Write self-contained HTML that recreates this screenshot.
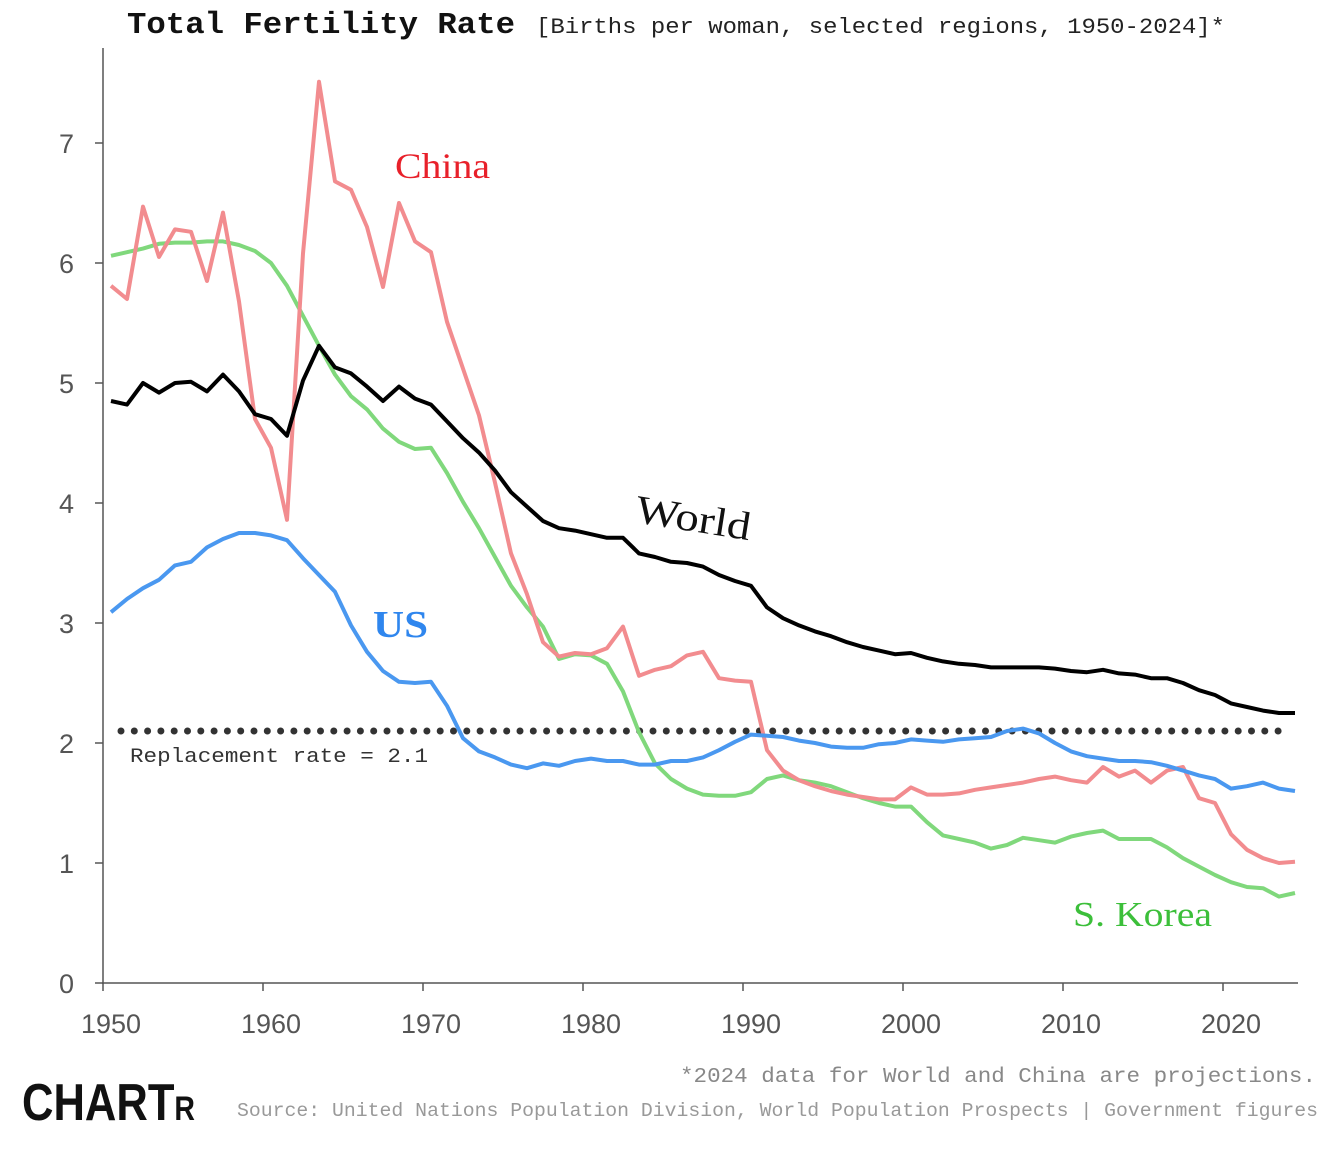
<!DOCTYPE html>
<html><head><meta charset="utf-8"><style>
html,body{margin:0;padding:0;background:#fff;}
svg{display:block;}
.mono{font-family:"Liberation Mono",monospace;}
.serif{font-family:"Liberation Serif",serif;}
.sans{font-family:"Liberation Sans",sans-serif;}
</style></head><body>
<svg id="chart" width="1324" height="1154" viewBox="0 0 1324 1154">
<text x="127" y="33" class="mono" font-size="31" font-weight="bold" fill="#111" textLength="388" lengthAdjust="spacingAndGlyphs">Total Fertility Rate</text>
<text x="536" y="33" class="mono" font-size="22" fill="#222" textLength="689" lengthAdjust="spacingAndGlyphs">[Births per woman, selected regions, 1950-2024]*</text>
<g id="axes"></g>
<g id="series"></g>
<text x="395" y="178" class="serif" font-size="36" fill="#e8202a" textLength="95" lengthAdjust="spacingAndGlyphs">China</text>
<text x="634" y="522" class="serif" font-size="40" fill="#111" textLength="116" lengthAdjust="spacingAndGlyphs" transform="rotate(9 634 522)">World</text>
<text x="373" y="637" class="serif" font-size="38" font-weight="bold" fill="#2f86ee" textLength="55" lengthAdjust="spacingAndGlyphs">US</text>
<text x="1073" y="926" class="serif" font-size="35" fill="#3cbf3a" textLength="139" lengthAdjust="spacingAndGlyphs">S. Korea</text>
<text x="130" y="762" class="mono" font-size="20" fill="#333" textLength="298" lengthAdjust="spacingAndGlyphs">Replacement rate = 2.1</text>
<text x="680" y="1082" class="mono" font-size="21" fill="#888" textLength="636" lengthAdjust="spacingAndGlyphs">*2024 data for World and China are projections.</text>
<text x="237" y="1116" class="mono" font-size="19" fill="#999" textLength="1081" lengthAdjust="spacingAndGlyphs">Source: United Nations Population Division, World Population Prospects | Government figures</text>
<text x="22" y="1120" class="sans" font-size="52" font-weight="bold" fill="#111" textLength="173" lengthAdjust="spacingAndGlyphs">CHART<tspan font-size="34">R</tspan></text>
</svg>
<script>
const years=[];for(let y=1950;y<=2024;y++)years.push(y);
const world=[4.85,4.82,5.0,4.92,5.0,5.01,4.93,5.07,4.93,4.74,4.70,4.56,5.02,5.31,5.13,5.08,4.97,4.85,4.97,4.87,4.82,4.68,4.54,4.42,4.27,4.09,3.97,3.85,3.79,3.77,3.74,3.71,3.71,3.58,3.55,3.51,3.50,3.47,3.40,3.35,3.31,3.13,3.04,2.98,2.93,2.89,2.84,2.80,2.77,2.74,2.75,2.71,2.68,2.66,2.65,2.63,2.63,2.63,2.63,2.62,2.60,2.59,2.61,2.58,2.57,2.54,2.54,2.50,2.44,2.40,2.33,2.30,2.27,2.25,2.25];
const china=[5.81,5.70,6.47,6.05,6.28,6.26,5.85,6.42,5.68,4.70,4.46,3.86,6.08,7.51,6.68,6.61,6.30,5.80,6.50,6.18,6.09,5.51,5.12,4.73,4.17,3.58,3.24,2.84,2.72,2.75,2.74,2.79,2.97,2.56,2.61,2.64,2.73,2.76,2.54,2.52,2.51,1.94,1.77,1.69,1.64,1.60,1.57,1.55,1.53,1.53,1.63,1.57,1.57,1.58,1.61,1.63,1.65,1.67,1.70,1.72,1.69,1.67,1.80,1.72,1.77,1.67,1.77,1.80,1.54,1.50,1.24,1.11,1.04,1.00,1.01];
const korea=[6.06,6.09,6.12,6.16,6.17,6.17,6.18,6.18,6.15,6.10,6.00,5.81,5.56,5.31,5.07,4.89,4.78,4.62,4.51,4.45,4.46,4.25,4.01,3.79,3.55,3.31,3.13,2.97,2.70,2.74,2.73,2.66,2.43,2.09,1.83,1.70,1.62,1.57,1.56,1.56,1.59,1.70,1.73,1.69,1.67,1.64,1.59,1.54,1.50,1.47,1.47,1.34,1.23,1.20,1.17,1.12,1.15,1.21,1.19,1.17,1.22,1.25,1.27,1.20,1.20,1.20,1.13,1.04,0.97,0.90,0.84,0.80,0.79,0.72,0.75];
const us=[3.09,3.20,3.29,3.36,3.48,3.51,3.63,3.70,3.75,3.75,3.73,3.69,3.54,3.40,3.26,2.98,2.76,2.60,2.51,2.50,2.51,2.31,2.04,1.93,1.88,1.82,1.79,1.83,1.81,1.85,1.87,1.85,1.85,1.82,1.82,1.85,1.85,1.88,1.94,2.01,2.07,2.06,2.05,2.02,2.00,1.97,1.96,1.96,1.99,2.00,2.03,2.02,2.01,2.03,2.04,2.05,2.10,2.12,2.08,2.00,1.93,1.89,1.87,1.85,1.85,1.84,1.81,1.77,1.73,1.70,1.62,1.64,1.67,1.62,1.60];
const yTicks=[0,1,2,3,4,5,6,7];
const xTicks=[1950,1960,1970,1980,1990,2000,2010,2020];
const replacement=2.1;
const NS="http://www.w3.org/2000/svg";
const X=y=>103+(y-1950)*16, Y=v=>983-v*120;
const axes=document.getElementById('axes'), g=document.getElementById('series');
function mk(tag,attrs,parent){const e=document.createElementNS(NS,tag);for(const k in attrs)e.setAttribute(k,attrs[k]);parent.appendChild(e);return e;}
let e=mk('line',{x1:103,y1:48,x2:103,y2:984,stroke:'#555','stroke-width':1.5},axes);


e=mk('line',{x1:102,y1:983,x2:1298,y2:983,stroke:'#555','stroke-width':1.5},axes);


yTicks.forEach(v=>{
 const t=mk('line',{x1:95,y1:Y(v),x2:103,y2:Y(v),stroke:'#555','stroke-width':1.5},axes);
 
 
 const l=mk('text',{x:74,y:Y(v)+10,'text-anchor':'end','font-family':'Liberation Sans, sans-serif','font-size':27,fill:'#555'},axes);
 l.textContent=v;
 
 
});
xTicks.forEach(v=>{
 const t=mk('line',{x1:X(v),y1:983,x2:X(v),y2:991,stroke:'#555','stroke-width':1.5},axes);
 
 
 const l=mk('text',{x:X(v)+8,y:1033,'text-anchor':'middle','font-family':'Liberation Sans, sans-serif','font-size':27,fill:'#555'},axes);
 l.textContent=v;
 
 
});
e=mk('line',{x1:121,y1:Y(replacement),x2:1290,y2:Y(replacement),stroke:'#333','stroke-width':7,'stroke-linecap':'round','stroke-dasharray':'0 13.3'},g);


function line(data,color,name){
 const d=data.map((v,i)=>(i?'L':'M')+X(years[i]+0.5).toFixed(1)+','+Y(v).toFixed(1)).join('');
 const p=mk('path',{d:d,fill:'none',stroke:color,'stroke-width':4,'stroke-linejoin':'round'},g);
 
 
}
line(korea,'#80d87c','south-korea-line');
line(china,'#f28c8f','china-line');
line(us,'#4a98f0','us-line');
line(world,'#000','world-line');
</script>
</body></html>
